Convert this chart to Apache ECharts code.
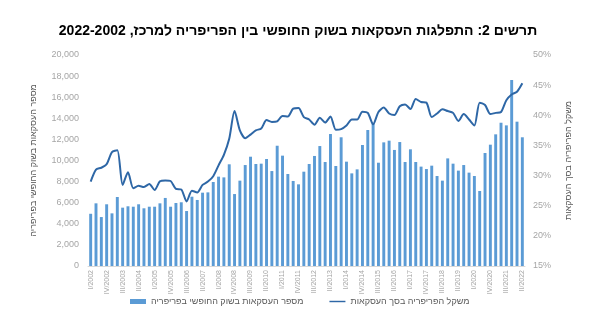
<!DOCTYPE html>
<html>
<head>
<meta charset="utf-8">
<script src="https://cdn.jsdelivr.net/npm/echarts@6/dist/echarts.min.js"></script>
<style>
html,body{margin:0;padding:0;background:#fff;}
#chart{width:596px;height:332px;}
</style>
</head>
<body>
<div id="chart"></div>
<script>
const titleText = 'תרשים 2: התפלגות העסקאות בשוק החופשי בין הפריפריה למרכז, 2022-2002';
const barName = 'מספר העסקאות בשוק החופשי בפריפריה';
const lineName = 'משקל הפריפריה בסך העסקאות';

const categories = [
 'I/2002','II/2002','III/2002','IV/2002','I/2003','II/2003','III/2003','IV/2003',
 'I/2004','II/2004','III/2004','IV/2004','I/2005','II/2005','III/2005','IV/2005',
 'I/2006','II/2006','III/2006','IV/2006','I/2007','II/2007','III/2007','IV/2007',
 'I/2008','II/2008','III/2008','IV/2008','I/2009','II/2009','III/2009','IV/2009',
 'I/2010','II/2010','III/2010','IV/2010','I/2011','II/2011','III/2011','IV/2011',
 'I/2012','II/2012','III/2012','IV/2012','I/2013','II/2013','III/2013','IV/2013',
 'I/2014','II/2014','III/2014','IV/2014','I/2015','II/2015','III/2015','IV/2015',
 'I/2016','II/2016','III/2016','IV/2016','I/2017','II/2017','III/2017','IV/2017',
 'I/2018','II/2018','III/2018','IV/2018','I/2019','II/2019','III/2019','IV/2019',
 'I/2020','II/2020','III/2020','IV/2020','I/2021','II/2021','III/2021','IV/2021',
 'I/2022','II/2022'
];

const peripheryDeals = [
 4950, 5940, 4640, 5850, 4990, 6540, 5530, 5660, 5620, 5850,
 5470, 5620, 5620, 5940, 6450, 5620, 5970, 6040, 5210, 6570,
 6260, 6950, 6980, 7960, 8470, 8400, 9640, 6820, 8090, 9570,
 10360, 9670, 9700, 10140, 9000, 11400, 10460, 8720, 8060, 7740, 8940,
 9670, 10430, 11370, 9860, 12510, 9480, 12200, 9890, 8780, 9160,
 11470, 12890, 13520, 9790, 11720, 11880, 11000, 11750, 9860, 11060, 9860,
 9420, 9190, 9510, 8530, 8090, 10200, 9700, 9040, 9570, 8850,
 8530, 7110, 10710, 11500, 12480, 13580, 13330, 17630, 13680, 12200
];

const peripheryShare = [
 29.0, 31.0, 31.3, 31.9, 33.9, 34.2, 28.45, 30.55, 27.9, 28.3,
 28.1, 28.6, 27.6, 29.05, 29.2, 29.1, 27.8, 27.7, 25.7, 27.5,
 27.2, 28.45, 29.0, 29.9, 31.7, 33.45, 36.1, 40.7, 37.5, 36.2,
 36.8, 37.5, 37.8, 39.2, 38.9, 39.0, 39.9, 39.8, 41.1, 41.2, 39.7,
 39.3, 38.45, 39.6, 38.8, 39.8, 37.6, 37.7, 38.3, 39.3, 39.3,
 40.6, 40.4, 38.5, 40.55, 41.3, 40.3, 40.05, 41.5, 41.8, 41.05, 42.7,
 42.2, 42.1, 39.7, 40.3, 41.0, 40.7, 40.4, 39.05, 40.2, 39.3,
 38.3, 42.1, 41.7, 40.2, 40.4, 40.55, 42.5, 43.45, 43.9, 45.3
];

const leftTicks = {min: 0, max: 20000, interval: 2000};
const rightTicks = {min: 15, max: 50, interval: 5};

const FONT = '"Liberation Sans", Arial, sans-serif';
const chart = echarts.init(document.getElementById('chart'), null, {renderer: 'canvas'});
chart.setOption({
  animation: false,
  backgroundColor: '#ffffff',
  textStyle: {fontFamily: FONT},
  title: {
    text: titleText,
    left: 'center',
    top: 19,
    textStyle: {fontFamily: FONT, fontSize: 14, fontWeight: 'bold', color: '#000'}
  },
  legend: {
    data: [
      {name: barName, icon: 'rect'},
      {name: lineName, icon: 'path://M0,0M0,1.6L20,1.6L20,3.4L0,3.4ZM20,5'}
    ],
    left: 125,
    top: 292,
    itemGap: 26,
    itemWidth: 16,
    itemHeight: 5,
    textStyle: {fontFamily: FONT, fontSize: 9, color: '#595959'}
  },
  grid: {left: 88, right: 71, top: 55, bottom: 66, containLabel: false, outerBoundsMode: 'none'},
  xAxis: {
    type: 'category',
    data: categories,
    boundaryGap: true,
    axisLine: {show: true, lineStyle: {color: '#D9D9D9', width: 1}},
    axisTick: {show: false},
    splitLine: {show: false},
    axisLabel: {interval: 2, rotate: 90, fontSize: 7, color: '#A6A6A6', fontFamily: FONT, margin: 4}
  },
  yAxis: [
    {
      type: 'value',
      min: leftTicks.min, max: leftTicks.max, interval: leftTicks.interval,
      position: 'left',
      name: barName,
      nameLocation: 'middle',
      nameGap: 50,
      nameTextStyle: {fontFamily: FONT, fontSize: 9, color: '#595959'},
      axisLine: {show: false},
      axisTick: {show: false},
      splitLine: {show: false},
      axisLabel: {
        fontSize: 9, color: '#A6A6A6', fontFamily: FONT, margin: 9,
        formatter: v => v.toString().replace(/\B(?=(\d{3})+(?!\d))/g, ',')
      }
    },
    {
      type: 'value',
      min: rightTicks.min, max: rightTicks.max, interval: rightTicks.interval,
      position: 'right',
      name: lineName,
      nameLocation: 'middle',
      nameGap: 39,
      nameTextStyle: {fontFamily: FONT, fontSize: 9, color: '#595959'},
      axisLine: {show: false},
      axisTick: {show: false},
      splitLine: {show: false},
      axisLabel: {fontSize: 9, color: '#A6A6A6', fontFamily: FONT, margin: 8, formatter: '{value}%'}
    }
  ],
  series: [
    {
      name: barName,
      type: 'bar',
      yAxisIndex: 0,
      data: peripheryDeals,
      barCategoryGap: '45%',
      itemStyle: {color: '#5B9BD5'}
    },
    {
      name: lineName,
      type: 'line',
      yAxisIndex: 1,
      data: peripheryShare,
      symbol: 'none',
      smooth: 0.25,
      lineStyle: {color: '#2E67A6', width: 2},
      itemStyle: {color: '#2E67A6'}
    }
  ]
});
</script>
</body>
</html>
